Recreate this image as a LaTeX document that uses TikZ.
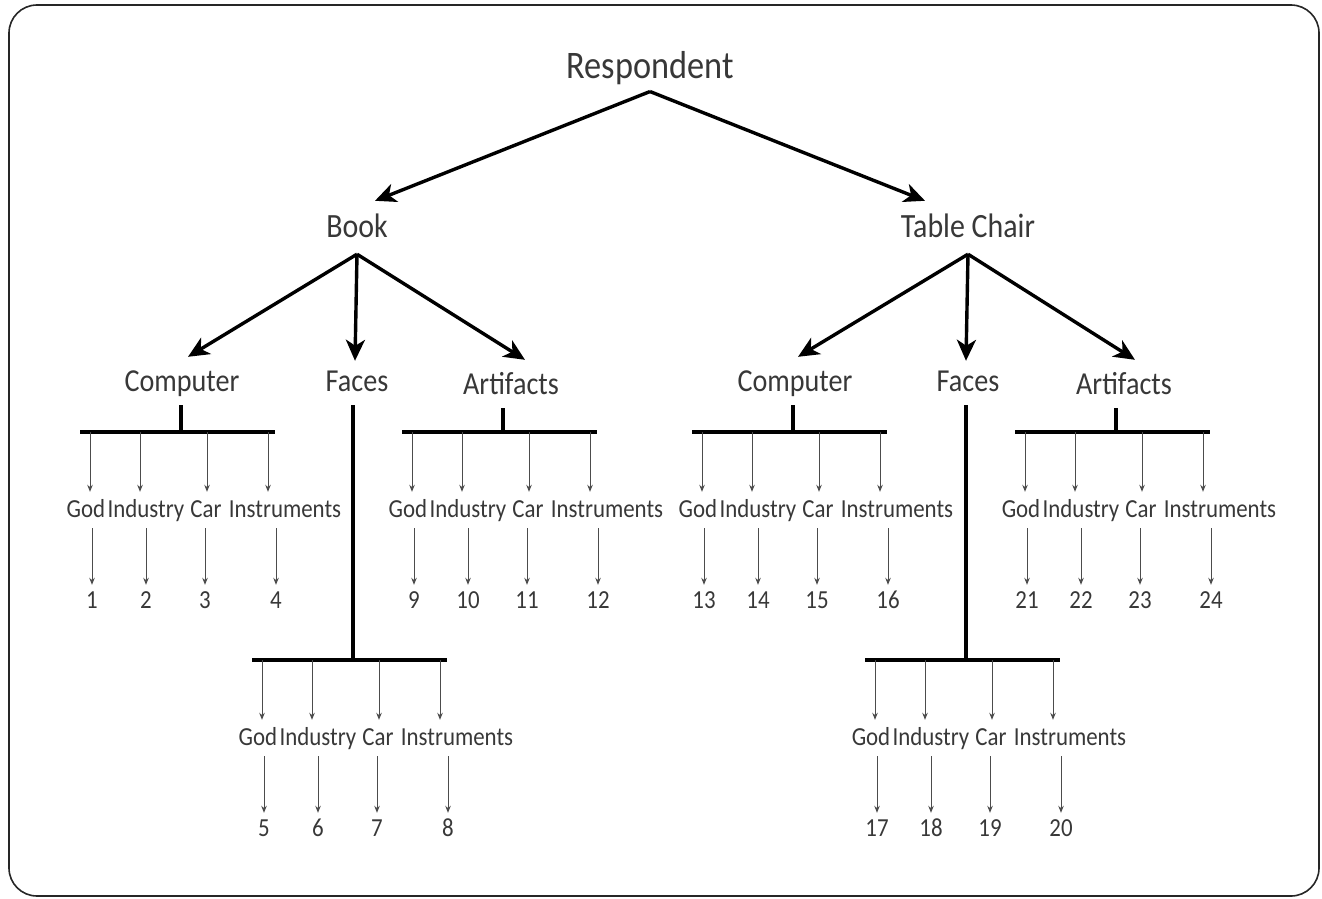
\documentclass[tikz,border=0pt]{standalone}
\usepackage{fontspec}
\setmainfont{Carlito}[FakeStretch=0.88]
\usetikzlibrary{arrows.meta}

\begin{document}
\begin{tikzpicture}[x=1pt,y=-1pt]
\tikzset{
  big arrow/.style={line width=3.4pt, -{Stealth[length=21pt,width=19pt,inset=6pt]}},
  thin arrow/.style={line width=1pt, black!70, -{Stealth[length=7pt,width=5.5pt]}},
  bar line/.style={line width=3.4pt},
  any label/.style={text=black!78},
  top label/.style={any label, font=\fontsize{39}{44}\selectfont, text height=28pt, text depth=10pt},
  mid label/.style={any label, font=\fontsize{34}{40}\selectfont, text height=24pt, text depth=9pt, inner ysep=8pt},
  sub label/.style={any label, font=\fontsize{32}{38}\selectfont, text height=22pt, text depth=8pt, inner ysep=6pt},
  leaf label/.style={any label, font=\fontsize{26}{30}\selectfont, text height=18pt, text depth=7pt, inner sep=1pt},
}
\useasboundingbox (0,0) rectangle (1322,899);
\draw[line width=1.6pt, black!85, rounded corners=28pt] (9,5) rectangle (1319,896);

% top levels
\node[top label] (resp) at (650,69) {Respondent};
\node[mid label] (book) at (357,229.5) {Book};
\node[mid label] (tc) at (968,229.5) {Table Chair};

\node[sub label] (bc) at (182,384) {Computer};
\node[sub label] (bf) at (357,384) {Faces};
\node[sub label] (ba) at (511,387) {Artifacts};
\node[sub label] (tcc) at (795,384) {Computer};
\node[sub label] (tcf) at (968,384) {Faces};
\node[sub label] (tca) at (1124,387) {Artifacts};

\draw[big arrow] (resp.south) -- ([xshift=18pt,yshift=4pt]book.north);
\draw[big arrow] (resp.south) -- ([xshift=-43pt,yshift=4pt]tc.north);

\draw[big arrow] (book.south) -- ([xshift=6pt,yshift=6pt]bc.north);
\draw[big arrow] (book.south) -- ([xshift=-2pt,yshift=2pt]bf.north);
\draw[big arrow] (book.south) -- ([xshift=14pt,yshift=6pt]ba.north);
\draw[big arrow] (tc.south) -- ([xshift=3pt,yshift=6pt]tcc.north);
\draw[big arrow] (tc.south) -- ([xshift=-2pt,yshift=2pt]tcf.north);
\draw[big arrow] (tc.south) -- ([xshift=11pt,yshift=6pt]tca.north);

% bars with leaves
\foreach \name/\L/\by/\n in {bc/80/432/1, bf/252/660/5, ba/402/432/9,
                             tcc/692/432/13, tcf/865/660/17, tca/1015/432/21}{
  \coordinate (\name-bar) at (\L+101,\by);
  \draw[bar line] (\L,\by) -- (\L+195,\by);
  \draw[bar line] (\name-bar |- \name.south) -- (\name-bar);
  \foreach \w/\a/\t/\m [count=\i from 0] in {God/10/6/12, Industry/60/66/66,
                                             Car/127/126/125, Instruments/188/205/196}{
    \pgfmathtruncatemacro\k{\n+\i}
    \node[leaf label] (\name-w\i) at (\L+\t,\by+79.5) {\w};
    \node[leaf label] (\name-n\i) at (\L+\m,\by+170.5) {\k};
    \coordinate (\name-a\i) at (\L+\a,\by);
    \draw[thin arrow, shorten >=6pt] (\name-a\i) -- (\name-a\i |- \name-w\i.north);
    \draw[thin arrow, shorten <=3pt, shorten >=4pt] (\name-n\i.north |- \name-w\i.south) -- (\name-n\i.north);
  }
}
\end{tikzpicture}
\end{document}
